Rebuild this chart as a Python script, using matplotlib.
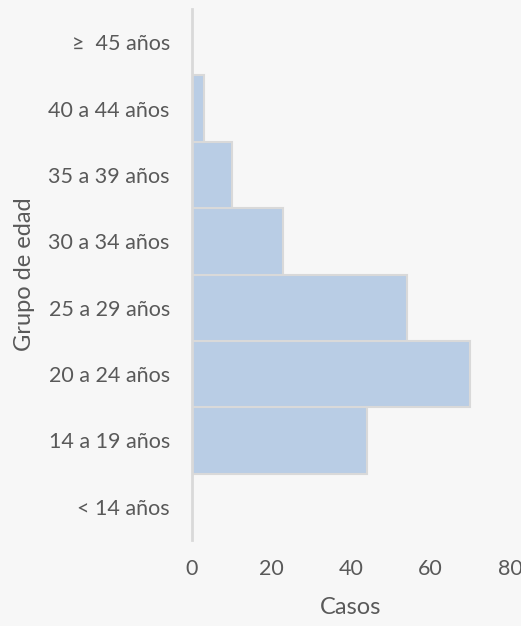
import matplotlib.pyplot as plt

# Datos: casos por grupo de edad (de abajo hacia arriba)
grupos = ['< 14 años', '14 a 19 años', '20 a 24 años', '25 a 29 años',
          '30 a 34 años', '35 a 39 años', '40 a 44 años', '≥  45 años']
casos = [0, 44, 70, 54, 23, 10, 3, 0]
ticks_x = [0, 20, 40, 60, 80]

plt.rcParams['font.family'] = ['Lato', 'DejaVu Sans']

fondo = '#f7f7f7'
gris = '#d9d9d9'
texto = '#595959'

fig = plt.figure(figsize=(5.21, 6.26), dpi=100, facecolor=fondo)
ax = fig.add_axes([192 / 521, 86 / 626, 318 / 521, 531 / 626])
ax.set_facecolor(fondo)

ax.barh(range(len(grupos)), casos, height=1.0, color='#b9cde5',
        edgecolor=gris, linewidth=1.5)

ax.set_xlim(0, 80)
ax.set_ylim(-0.5, len(grupos) - 0.5)
ax.set_xticks(ticks_x)
ax.set_yticks(range(len(grupos)))
ax.set_yticklabels(grupos)
ax.tick_params(axis='both', length=0, labelsize=15.5, colors=texto)
ax.tick_params(axis='x', pad=14)
ax.tick_params(axis='y', pad=16)

for lado in ['top', 'right', 'bottom']:
    ax.spines[lado].set_visible(False)
ax.spines['left'].set_color(gris)
ax.spines['left'].set_linewidth(2)

ax.set_xlabel('Casos', fontsize=17, color=texto)
ax.set_ylabel('Grupo de edad', fontsize=17, color=texto)
ax.xaxis.set_label_coords(0.5, -67 / 531)
ax.xaxis.label.set_va('center')
ax.yaxis.set_label_coords(-167 / 318, 0.5)
ax.yaxis.label.set_va('center')

fig.savefig('out.png', dpi=100, facecolor=fondo)
